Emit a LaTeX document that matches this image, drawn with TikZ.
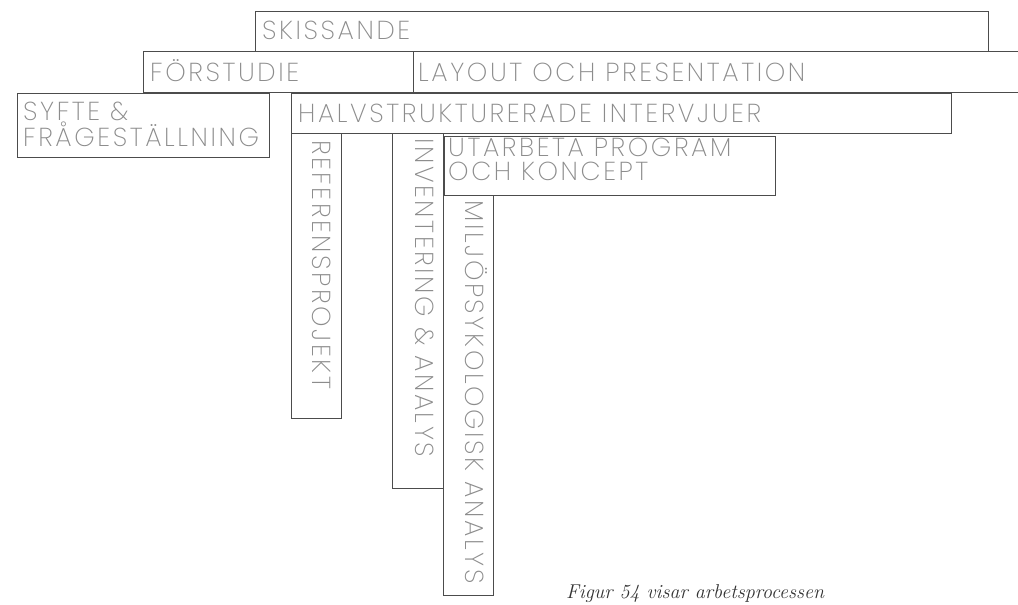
\documentclass[tikz,border=0pt]{standalone}
\usepackage{fontspec}
\IfFontExistsTF{Poppins ExtraLight}
  {\newfontfamily\boxfont{Poppins ExtraLight}[LetterSpace=10]}
  {\newfontfamily\boxfont{Poppins}[UprightFont=* Light, LetterSpace=10]}
\definecolor{boxtext}{gray}{0.55}
\definecolor{boxline}{gray}{0.3}
\definecolor{captext}{gray}{0.2}
\tikzset{
  lbl/.style={anchor=base west, inner sep=0pt, text=boxtext, align=left,
    font=\boxfont\fontsize{26}{23.5}\selectfont},
  vlbl/.style={lbl, rotate=-90},
  frame/.style={draw=boxline, line width=0.9pt}
}
\begin{document}
\begin{tikzpicture}[x=1pt, y=-1pt]
  \useasboundingbox (0,0) rectangle (1018,605);

  % boxes
  \draw[frame] (255,11) rectangle (988,51);
  \draw[frame] (143,51) rectangle (413,92);
  \draw[frame] (1018,51) -- (413,51) -- (413,92) -- (1018,92);
  \draw[frame] (17,93) rectangle (269,157);
  \draw[frame] (291,93) rectangle (951,133);
  \draw[frame] (291,133) rectangle (341,418);
  \draw[frame] (392,133) rectangle (443,488);
  \draw[frame] (444,136) rectangle (775,195);
  \draw[frame] (443,195) rectangle (493,595);

  % labels
  \node (skiss) [lbl] at (262,39) {SKISSANDE};
  \node (forst) [lbl] at (150,81) {FÖRSTUDIE};
  \node (layout) [lbl] at (418,81) {LAYOUT OCH PRESENTATION};
  \node (syfte) [lbl] at (23,146) {SYFTE \&\\FRÅGESTÄLLNING};
  \node (halv) [lbl] at (298,122) {HALVSTRUKTURERADE INTERVJUER};
  \node (utarb) [lbl] at (448,180) {UTARBETA PROGRAM\\OCH KONCEPT};
  \node (refp) [vlbl] at (312,140) {REFERENSPROJEKT};
  \node (inv) [vlbl] at (415,138) {INVENTERING \& ANALYS};
  \node (milj) [vlbl] at (465,200) {MILJÖPSYKOLOGISK ANALYS};

  \node (caption) [anchor=base west, inner sep=0pt, text=captext,
    font=\itshape\fontsize{20}{22}\selectfont] at (566,598) {Figur 54 visar arbetsprocessen};
\end{tikzpicture}
\end{document}
